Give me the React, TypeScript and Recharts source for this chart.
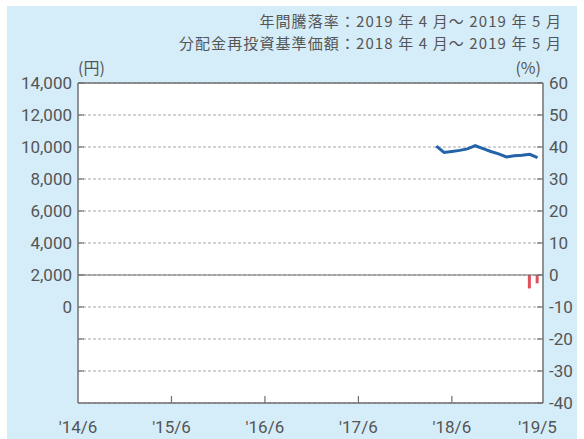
import React from 'react'
import { ComposedChart, Line, Bar, XAxis, YAxis, CartesianGrid, ReferenceLine } from 'recharts'

// months counted from 2014/6 (= 0)
const xTickMonths = [0, 12, 24, 36, 48, 59]
const xTickLabels = ["'14/6", "'15/6", "'16/6", "'17/6", "'18/6", "'19/5"]

// 分配金再投資基準価額 (円), 2018/4 - 2019/5
const navStartMonth = 46
const navValues = [10050, 9660, 9720, 9790, 9880, 10080, 9900, 9720, 9570, 9380, 9450, 9480, 9540, 9330]

// 年間騰落率 (%), 2019/4 - 2019/5
const returnMonths = [58, 59]
const returnValues = [-4.2, -2.6]

const leftTicks = [-4000, -2000, 0, 2000, 4000, 6000, 8000, 10000, 12000, 14000]
const rightTicks = [-40, -30, -20, -10, 0, 10, 20, 30, 40, 50, 60]

const chartData = Array.from({ length: 60 }, (_, m) => ({
  month: m,
  nav: m >= navStartMonth ? navValues[m - navStartMonth] : null,
  ret: returnMonths.includes(m) ? returnValues[returnMonths.indexOf(m)] : null,
}))

const FRAME = '#707070'
const TEXT = '#555'
const NUM_FONT = 'Roboto, sans-serif'
const JP_FONT = '"Noto Sans CJK JP", sans-serif'

const LeftTick = (props: any) => {
  const { x, y, payload } = props
  return (
    <g>
      <line x1={x} x2={x + 6} y1={y} y2={y} stroke={FRAME} strokeWidth={1.2} />
      {payload.value >= 0 && (
        <text x={x - 6} y={y} dy={6} textAnchor="end" fill={TEXT} fontSize={17} fontFamily={NUM_FONT}>
          {payload.value.toLocaleString('en-US')}
        </text>
      )}
    </g>
  )
}

const RightTick = (props: any) => {
  const { x, y, payload } = props
  return (
    <g>
      <line x1={x} x2={x - 6} y1={y} y2={y} stroke={FRAME} strokeWidth={1.2} />
      <text x={x + 6} y={y} dy={6} textAnchor="start" fill={TEXT} fontSize={17} fontFamily={NUM_FONT}>
        {payload.value}
      </text>
    </g>
  )
}

const BottomTick = (props: any) => {
  const { x, y, payload } = props
  const i = xTickMonths.indexOf(payload.value)
  return (
    <g>
      {i > 0 && i < xTickMonths.length - 1 && (
        <line x1={x} x2={x} y1={y} y2={y - 7} stroke={FRAME} strokeWidth={1.2} />
      )}
      <text x={x} y={y + 30} textAnchor="middle" fill={TEXT} fontSize={17} fontFamily={NUM_FONT}>
        {xTickLabels[i]}
      </text>
    </g>
  )
}

export default function App() {
  return (
    <div style={{ position: 'fixed', left: 0, top: 0, width: 584, height: 439, background: '#fff' }}>
      <div style={{ position: 'absolute', left: 7, top: 6, width: 570, height: 433, background: '#d5edf9' }} />
      <svg width={584} height={439} style={{ position: 'absolute', left: 0, top: 0 }}>
        <text x={562} y={27} textAnchor="end" fill={TEXT} fontSize={15} letterSpacing={1.1} fontFamily={JP_FONT}>
          年間騰落率：2019 年 4 月～ 2019 年 5 月
        </text>
        <text x={562} y={49} textAnchor="end" fill={TEXT} fontSize={15} letterSpacing={1.1} fontFamily={JP_FONT}>
          分配金再投資基準価額：2018 年 4 月～ 2019 年 5 月
        </text>
        <text x={78} y={74} fill={TEXT} fontSize={16} fontFamily={JP_FONT}>
          (円)
        </text>
        <text x={541} y={74} textAnchor="end" fill={TEXT} fontSize={16} fontFamily={JP_FONT}>
          (%)
        </text>
      </svg>
      <div style={{ position: 'absolute', left: 0, top: 0 }}>
        <ComposedChart
          width={584}
          height={439}
          data={chartData}
          margin={{ top: 83, right: 8, bottom: 6, left: 8 }}
        >
          <CartesianGrid
            yAxisId="left"
            vertical={false}
            fill="#fff"
            stroke="#a8a8a8"
            strokeDasharray="3 2"
          />
          <XAxis
            dataKey="month"
            type="number"
            domain={[0, 59.7]}
            ticks={xTickMonths}
            height={30}
            tickLine={false}
            tickSize={0}
            tickMargin={0}
            axisLine={{ stroke: FRAME, strokeWidth: 1.5 }}
            tick={<BottomTick />}
            interval={0}
          />
          <YAxis
            yAxisId="left"
            orientation="left"
            width={70}
            domain={[-6000, 14000]}
            ticks={leftTicks}
            tickLine={false}
            tickSize={0}
            tickMargin={0}
            axisLine={{ stroke: FRAME, strokeWidth: 1.5 }}
            tick={<LeftTick />}
            interval={0}
          />
          <YAxis
            yAxisId="right"
            orientation="right"
            width={33}
            domain={[-40, 60]}
            ticks={rightTicks}
            tickLine={false}
            tickSize={0}
            tickMargin={0}
            axisLine={{ stroke: FRAME, strokeWidth: 1.5 }}
            tick={<RightTick />}
            interval={0}
          />
          <ReferenceLine yAxisId="left" y={14000} stroke={FRAME} strokeWidth={1.5} />
          <ReferenceLine yAxisId="right" y={0} stroke={FRAME} strokeWidth={1.2} />
          <Bar yAxisId="right" dataKey="ret" fill="#e0505c" barSize={3} isAnimationActive={false} />
          <Line
            yAxisId="left"
            dataKey="nav"
            type="linear"
            stroke="#2462aa"
            strokeWidth={3}
            dot={false}
            activeDot={false}
            isAnimationActive={false}
          />
        </ComposedChart>
      </div>
    </div>
  )
}
